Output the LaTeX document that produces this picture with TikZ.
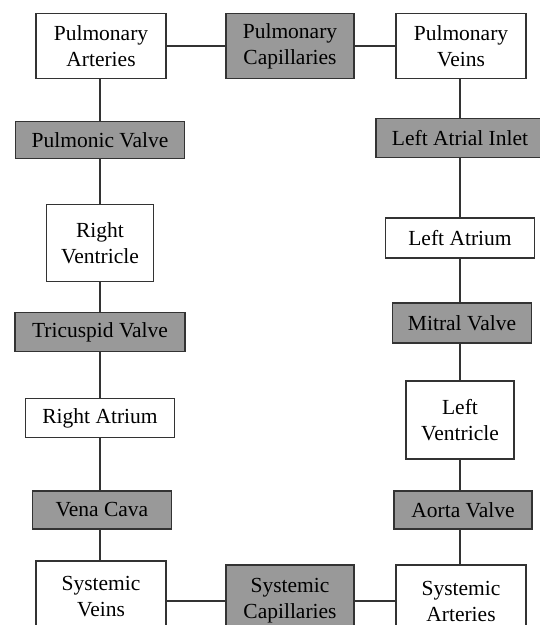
\documentclass[tikz,border=0pt]{standalone}
\usepackage{fontspec}
\setmainfont{Liberation Serif}
\usepackage{tikz}

\definecolor{boxgray}{HTML}{999999}
\definecolor{edgegray}{HTML}{333333}

\begin{document}
\begin{tikzpicture}[
    x=1pt, y=-1pt,
    font=\fontsize{21.5}{26}\selectfont,
    blk/.style={draw=edgegray, line width=1.8pt, align=center, inner sep=0pt},
    part/.style={blk, fill=white},
    valve/.style={blk, fill=boxgray},
    link/.style={draw=edgegray, line width=1.8pt},
  ]
    \useasboundingbox (0,0) rectangle (540,625);

    % ---------- top row ----------
    \node[part,  minimum width=130, minimum height=65] (pa)  at (101,46) {Pulmonary\\Arteries};
    \node[valve, minimum width=128, minimum height=65] (pc)  at (290,46) {Pulmonary\\Capillaries};
    \node[part,  minimum width=130, minimum height=65] (pvn) at (461,46) {Pulmonary\\Veins};

    % ---------- left column ----------
    \node[valve, minimum width=169, minimum height=37] (pv)  at (100,140) {Pulmonic Valve};
    \node[part,  minimum width=107, minimum height=77] (rv)  at (100,243) {Right\\Ventricle};
    \node[valve, minimum width=170, minimum height=39] (tv)  at (100,332) {Tricuspid Valve};
    \node[part,  minimum width=149, minimum height=39] (ra)  at (100,418) {Right Atrium};
    \node[valve, minimum width=139, minimum height=38] (vc)  at (102,510) {Vena Cava};

    % ---------- right column ----------
    \node[valve, minimum width=168, minimum height=39] (lai) at (460,138) {Left Atrial Inlet};
    \node[part,  minimum width=149, minimum height=40] (la)  at (460,238) {Left Atrium};
    \node[valve, minimum width=139, minimum height=40] (mv)  at (462,323) {Mitral Valve};
    \node[part,  minimum width=108, minimum height=78] (lv)  at (460,420) {Left\\Ventricle};
    \node[valve, minimum width=138, minimum height=38] (av)  at (463,510) {Aorta Valve};

    % ---------- bottom row ----------
    \node[part,  minimum width=130, minimum height=72] (sv)  at (101,597) {Systemic\\Veins};
    \node[valve, minimum width=128, minimum height=72] (sc)  at (290,601) {Systemic\\Capillaries};
    \node[part,  minimum width=130, minimum height=72] (sa)  at (461,601) {Systemic\\Arteries};

    % connectors
    \draw[link] (pa) -- (pc);
    \draw[link] (pc) -- (pvn);
    \draw[link] (sv.east |- sc) -- (sc);
    \draw[link] (sc) -- (sa);
    \foreach \a/\b in {pa/pv, pv/rv, rv/tv, tv/ra, ra/vc, vc/sv}
      \draw[link] (\a.south -| rv) -- (\b.north -| rv);
    \foreach \a/\b in {pvn/lai, lai/la, la/mv, mv/lv, lv/av, av/sa}
      \draw[link] (\a.south -| lv) -- (\b.north -| lv);
\end{tikzpicture}
\end{document}
